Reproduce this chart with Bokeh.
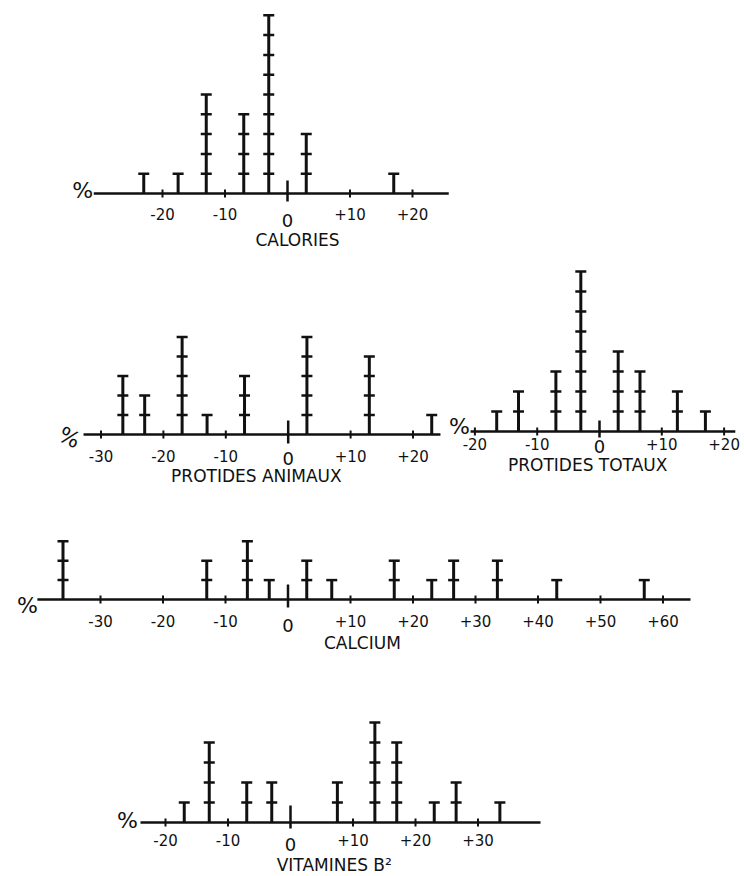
import numpy as np
from bokeh.plotting import figure
from bokeh.models import Range1d
from bokeh.core.properties import value
from bokeh.embed import file_html
from bokeh.resources import INLINE

# ---------------- data ----------------
cal_x = [-23, -17.5, -13, -7, -3, 3, 17]
cal_n = [1, 1, 5, 4, 9, 3, 1]
cal_ticks = [-20, -10, 10, 20]
cal_labels = ["-20", "-10", "+10", "+20"]

pa_x = [-26.5, -23, -17, -13, -7, 3, 13, 23]
pa_n = [3, 2, 5, 1, 3, 5, 4, 1]
pa_ticks = [-30, -20, -10, 10, 20]
pa_labels = ["-30", "-20", "-10", "+10", "+20"]

pt_x = [-16.5, -13, -7, -3, 3, 6.5, 12.5, 17]
pt_n = [1, 2, 3, 8, 4, 3, 2, 1]
pt_ticks = [-20, -10, 10, 20]
pt_labels = ["-20", "-10", "+10", "+20"]

ca_x = [-36, -13, -6.5, -3, 3, 7, 17, 23, 26.5, 33.5, 43, 57]
ca_n = [3, 2, 3, 1, 2, 1, 2, 1, 2, 2, 1, 1]
ca_ticks = [-30, -20, -10, 10, 20, 30, 40, 50, 60]
ca_labels = ["-30", "-20", "-10", "+10", "+20", "+30", "+40", "+50", "+60"]

vb_x = [-17, -13, -7, -3, 7.5, 13.5, 17, 23, 26.5, 33.5]
vb_n = [1, 4, 2, 2, 2, 5, 4, 1, 2, 1]
vb_ticks = [-20, -10, 10, 20, 30]
vb_labels = ["-20", "-10", "+10", "+20", "+30"]

titles = ["CALORIES", "PROTIDES ANIMAUX", "PROTIDES TOTAUX", "CALCIUM", "VITAMINES B²"]

# ---------------- layout / style ----------------
W, H = 744, 876
INK = "#111111"
FONT = "DejaVu Sans"

p = figure(width=W, height=H, output_backend="svg", toolbar_location=None,
           x_axis_location=None, y_axis_location=None,
           x_range=Range1d(0, W), y_range=Range1d(0, H), min_border=0)
p.grid.visible = False
p.outline_line_color = None
p.background_fill_color = "white"
p.border_fill_color = "white"

# zx: pixel of value 0, sx: px per value unit, ay: axis pixel row, uy: px per count
# x0/x1: axis extent (values), tx: title x (value), ly/zy/ty: label offsets (px)
LAY = {
    "cal": dict(zx=287, sx=6.25, ay=193, uy=19.8, x0=-31, x1=25.8, tx=1.6,
                ly=20, zy=27, ty=46, za=13, zb=8, pdx=-11, pdy=-3, pang=0.0),
    "pa": dict(zx=287.7, sx=6.24, ay=434, uy=19.5, x0=-32.8, x1=24.4, tx=-5.1,
               ly=21, zy=24, ty=41, za=14, zb=9, pdx=-14, pdy=3, pang=-0.45),
    "pt": dict(zx=599, sx=6.23, ay=431, uy=20.0, x0=-20.7, x1=21.8, tx=-1.9,
               ly=12, zy=15, ty=33, za=11, zb=6, pdx=-11, pdy=-5, pang=0.0),
    "ca": dict(zx=287.5, sx=6.25, ay=599, uy=19.4, x0=-40.1, x1=64.4, tx=11.9,
               ly=21, zy=26, ty=43, za=15, zb=8, pdx=-10, pdy=6, pang=0.0),
    "vb": dict(zx=290, sx=6.25, ay=822, uy=20.0, x0=-24, x1=40, tx=7,
               ly=17, zy=22, ty=42, za=17, zb=6, pdx=-13, pdy=-2, pang=0.0),
}


def panel(key, xs, ns, ticks, labels, title):
    L = LAY[key]
    xr, yr = "x_" + key, "y_" + key
    p.extra_x_ranges[xr] = Range1d(-L["zx"] / L["sx"], (W - L["zx"]) / L["sx"])
    p.extra_y_ranges[yr] = Range1d(-(H - L["ay"]) / L["uy"], L["ay"] / L["uy"])
    kw = dict(x_range_name=xr, y_range_name=yr)

    # axis line
    p.segment(x0=[L["x0"]], y0=[0], x1=[L["x1"]], y1=[0],
              line_width=2.5, line_color=INK, **kw)
    # small tick crosses
    p.scatter(x=ticks, y=[0] * len(ticks), marker="dash", angle=np.pi / 2,
              size=8, line_width=2, line_color=INK, **kw)
    # zero tick
    p.segment(x0=[0], y0=[-L["zb"] / L["uy"]], x1=[0], y1=[L["za"] / L["uy"]],
              line_width=2.5, line_color=INK, **kw)
    # stems
    p.segment(x0=xs, y0=[0] * len(xs), x1=xs, y1=ns,
              line_width=3, line_color=INK, **kw)
    # unit marks
    mx, my = [], []
    for x, n in zip(xs, ns):
        for k in range(1, n + 1):
            mx.append(x)
            my.append(k)
    p.scatter(x=mx, y=my, marker="dash", size=11, line_width=2.5,
              line_color=INK, **kw)

    # tick labels
    p.text(x=ticks, y=[0] * len(ticks), text=labels, y_offset=L["ly"],
           text_align="center", text_baseline="middle",
           text_font=value(FONT), text_font_size="15px", text_color=INK, **kw)
    p.text(x=[0], y=[0], text=["0"], y_offset=L["zy"],
           text_align="center", text_baseline="middle",
           text_font=value(FONT), text_font_size="18px", text_color=INK, **kw)
    # title
    p.text(x=[L["tx"]], y=[0], text=[title], y_offset=L["ty"],
           text_align="center", text_baseline="middle",
           text_font=value(FONT), text_font_size="17px", text_color=INK, **kw)
    # percent sign
    p.text(x=[L["x0"]], y=[0], text=["%"], x_offset=L["pdx"], y_offset=L["pdy"],
           angle=L["pang"], text_align="center", text_baseline="middle",
           text_font=value(FONT), text_font_size="22px", text_color=INK, **kw)


panel("cal", cal_x, cal_n, cal_ticks, cal_labels, titles[0])
panel("pa", pa_x, pa_n, pa_ticks, pa_labels, titles[1])
panel("pt", pt_x, pt_n, pt_ticks, pt_labels, titles[2])
panel("ca", ca_x, ca_n, ca_ticks, ca_labels, titles[3])
panel("vb", vb_x, vb_n, vb_ticks, vb_labels, titles[4])

open("out.html", "w").write(file_html(p, INLINE))
